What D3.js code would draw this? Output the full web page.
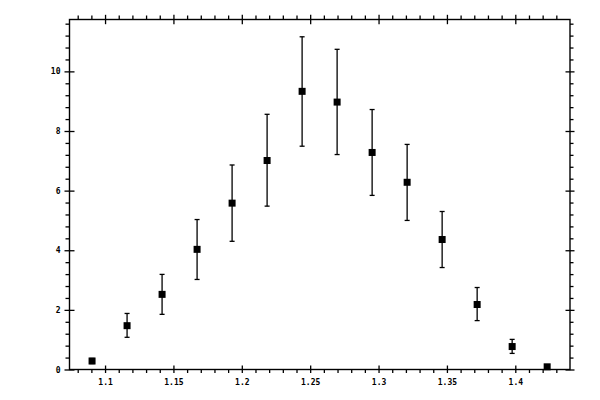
<!DOCTYPE html>
<html>
<head>
<meta charset="utf-8">
<script src="https://cdn.jsdelivr.net/npm/d3@7"></script>
<style>
  html, body { margin: 0; padding: 0; background: #fff; }
  svg { display: block; }
  .tick text { font-family: "DejaVu Sans Mono", monospace; font-size: 8px; font-weight: bold; fill: #000; }
</style>
</head>
<body>
<svg id="chart" width="600" height="400"></svg>
<script>
// ---- data ----
const xValues = [1.0905, 1.1161, 1.1417, 1.1673, 1.1929, 1.2185, 1.2441, 1.2697, 1.2953, 1.3209, 1.3465, 1.3721, 1.3977, 1.4233];
const yValues = [0.285, 1.47, 2.52, 4.03, 5.58, 7.01, 9.33, 8.97, 7.28, 6.28, 4.36, 2.18, 0.77, 0.09];
const yUpper  = [0.37, 1.88, 3.19, 5.03, 6.86, 8.56, 11.16, 10.74, 8.72, 7.55, 5.30, 2.75, 1.01, 0.12];
const yLower  = [0.20, 1.08, 1.85, 3.02, 4.30, 5.48, 7.49, 7.21, 5.84, 5.00, 3.42, 1.64, 0.54, 0.06];
const xMajorTicks = [1.1, 1.15, 1.2, 1.25, 1.3, 1.35, 1.4];
const xTickLabels = ["1.1", "1.15", "1.2", "1.25", "1.3", "1.35", "1.4"];
const yMajorTicks = [0, 2, 4, 6, 8, 10];
const yTickLabels = ["0", "2", "4", "6", "8", "10"];
const xDomain = [1.074, 1.44];
const yDomain = [0, 11.74];

// ---- layout ----
const svg = d3.select("#chart");
const pL = 69.5, pR = 570, pT = 19.5, pB = 369.5;

const x = d3.scaleLinear().domain(xDomain).range([pL, pR]);
const y = d3.scaleLinear().domain(yDomain).range([pB, pT]);

const xMinor = d3.range(108, 144).map(v => v / 100).filter(v => !xMajorTicks.some(m => Math.abs(m - v) < 1e-6));
const yMinor = d3.range(0, 30).map(v => +(v * 0.4).toFixed(2)).filter(v => v <= 11.7 && !yMajorTicks.some(m => Math.abs(m - v) < 1e-6));

function styleAxis(g) {
  g.select(".domain").remove();
  g.selectAll(".tick line").attr("stroke", "#000").attr("stroke-width", 1.3);
}

// minor ticks (outside only)
svg.append("g").attr("transform", `translate(0,${pB})`)
  .call(d3.axisBottom(x).tickValues(xMinor).tickSize(3.5).tickFormat(""))
  .call(styleAxis);
svg.append("g").attr("transform", `translate(0,${pT})`)
  .call(d3.axisTop(x).tickValues(xMinor).tickSize(4).tickFormat(""))
  .call(styleAxis);
svg.append("g").attr("transform", `translate(${pL},0)`)
  .call(d3.axisLeft(y).tickValues(yMinor).tickSize(4).tickFormat(""))
  .call(styleAxis);
svg.append("g").attr("transform", `translate(${pR},0)`)
  .call(d3.axisRight(y).tickValues(yMinor).tickSize(3.5).tickFormat(""))
  .call(styleAxis);

// major ticks (crossing the frame)
const gB = svg.append("g").attr("transform", `translate(0,${pB})`)
  .call(d3.axisBottom(x).tickValues(xMajorTicks).tickSize(3.5).tickPadding(6)
    .tickFormat((d, i) => xTickLabels[i]))
  .call(styleAxis);
gB.selectAll(".tick line").attr("y1", -4);

const gT = svg.append("g").attr("transform", `translate(0,${pT})`)
  .call(d3.axisTop(x).tickValues(xMajorTicks).tickSize(4.7).tickFormat(""))
  .call(styleAxis);
gT.selectAll(".tick line").attr("y1", 4.7);

const gL = svg.append("g").attr("transform", `translate(${pL},0)`)
  .call(d3.axisLeft(y).tickValues(yMajorTicks).tickSize(5).tickPadding(4)
    .tickFormat((d, i) => yTickLabels[i]))
  .call(styleAxis);
gL.selectAll(".tick line").attr("x1", 5);

const gR = svg.append("g").attr("transform", `translate(${pR},0)`)
  .call(d3.axisRight(y).tickValues(yMajorTicks).tickSize(4.5).tickFormat(""))
  .call(styleAxis);
gR.selectAll(".tick line").attr("x1", -4.5);

// frame
svg.append("rect")
  .attr("x", pL).attr("y", pT)
  .attr("width", pR - pL).attr("height", pB - pT)
  .attr("fill", "none").attr("stroke", "#000").attr("stroke-width", 1.4);

// error bars
const data = xValues.map((xv, i) => ({ x: xv, y: yValues[i], hi: yUpper[i], lo: yLower[i] }));
const eb = svg.append("g").attr("stroke", "#000").attr("stroke-width", 1.3);
eb.selectAll("line.v").data(data).join("line").attr("class", "v")
  .attr("x1", d => x(d.x)).attr("x2", d => x(d.x))
  .attr("y1", d => y(d.hi)).attr("y2", d => y(d.lo));
eb.selectAll("line.cu").data(data).join("line").attr("class", "cu")
  .attr("x1", d => x(d.x) - 2.5).attr("x2", d => x(d.x) + 2.5)
  .attr("y1", d => y(d.hi)).attr("y2", d => y(d.hi));
eb.selectAll("line.cl").data(data).join("line").attr("class", "cl")
  .attr("x1", d => x(d.x) - 2.5).attr("x2", d => x(d.x) + 2.5)
  .attr("y1", d => y(d.lo)).attr("y2", d => y(d.lo));

// markers
const s = 7;
svg.append("g").selectAll("rect").data(data).join("rect")
  .attr("x", d => x(d.x) - s / 2).attr("y", d => y(d.y) - s / 2)
  .attr("width", s).attr("height", s).attr("fill", "#000");
</script>
</body>
</html>
